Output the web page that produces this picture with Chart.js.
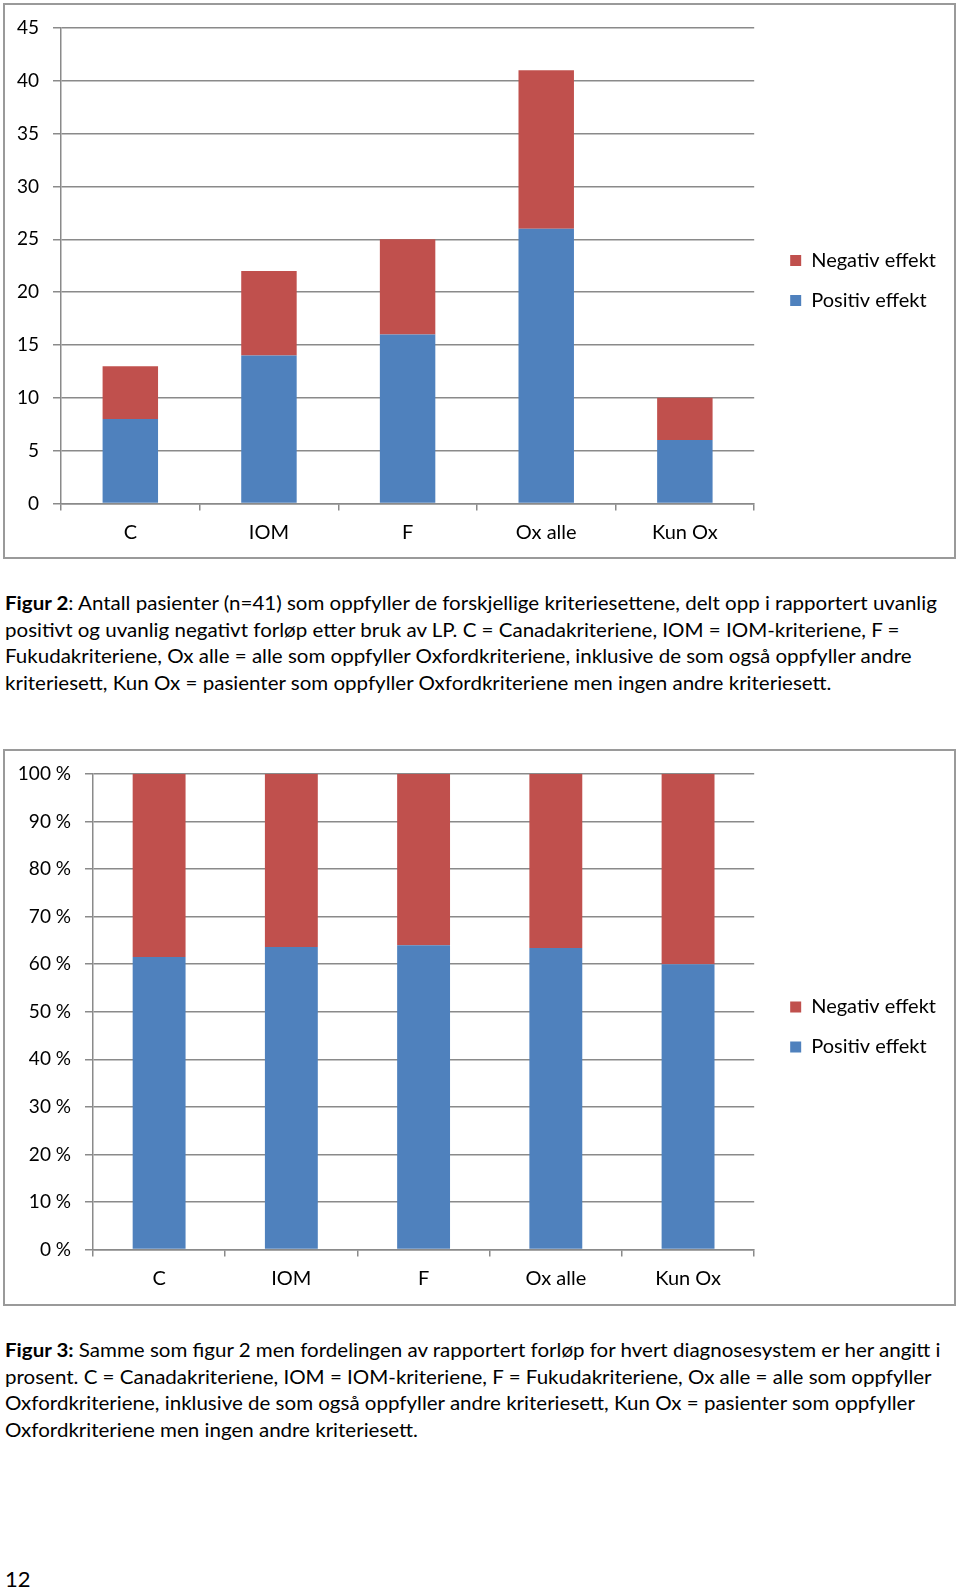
<!DOCTYPE html>
<html>
<head>
<meta charset="utf-8">
<script src="https://cdn.jsdelivr.net/npm/chart.js@4/dist/chart.umd.min.js"></script>
<style>
    html, body { margin: 0; padding: 0; background: #fff; }
    body { width: 960px; height: 1590px; position: relative; overflow: hidden; font-family: Lato, sans-serif; color: #000; }
    .frame { position: absolute; border: 2px solid #9a9a9a; box-sizing: border-box; pointer-events: none; }
    canvas { position: absolute; left: 0; }
    .caption { position: absolute; left: 5px; font-size: 19px; line-height: 26.7px; white-space: nowrap;
               transform: scaleX(1.08); transform-origin: 0 0; }
    .pageno { position: absolute; left: 5px; top: 1565px; font-size: 22px; }
</style>
</head>
<body>
<canvas id="countChart" width="960" height="561" style="top:0px"></canvas>
<div class="frame" style="left:3px; top:3px; width:953px; height:556px"></div>

<div class="caption" style="top:590px">
<b>Figur 2</b>: Antall pasienter (n=41) som oppfyller de forskjellige kriteriesettene, delt opp i rapportert uvanlig<br>
positivt og uvanlig negativt forløp etter bruk av LP. C = Canadakriteriene, IOM = IOM-kriteriene, F =<br>
Fukudakriteriene, Ox alle = alle som oppfyller Oxfordkriteriene, inklusive de som også oppfyller andre<br>
kriteriesett, Kun Ox = pasienter som oppfyller Oxfordkriteriene men ingen andre kriteriesett.
</div>

<canvas id="pctChart" width="960" height="562" style="top:746px"></canvas>
<div class="frame" style="left:3px; top:749px; width:953px; height:557px"></div>

<div class="caption" style="top:1337px">
<b>Figur 3:</b> Samme som figur 2 men fordelingen av rapportert forløp for hvert diagnosesystem er her angitt i<br>
prosent. C = Canadakriteriene, IOM = IOM-kriteriene, F = Fukudakriteriene, Ox alle = alle som oppfyller<br>
Oxfordkriteriene, inklusive de som også oppfyller andre kriteriesett, Kun Ox = pasienter som oppfyller<br>
Oxfordkriteriene men ingen andre kriteriesett.
</div>

<div class="pageno">12</div>

<script>
// Figur 2 / Figur 3 - stacked bars

const categories = ['C', 'IOM', 'F', 'Ox alle', 'Kun Ox'];

// antall pasienter
const positivCounts = [8, 14, 16, 26, 6];
const negativCounts = [5, 8, 9, 15, 4];

// prosent
const positivPct = [61.5, 63.6, 64.0, 63.4, 60.0];
const negativPct = [38.5, 36.4, 36.0, 36.6, 40.0];

const countMax = 45;
const countStep = 5;
const pctMax = 100;
const pctStep = 10;

const BLUE = '#4f81bd';
const RED = '#c0504d';
const GRID = '#8a8a8a';

Chart.defaults.font.family = 'Lato, sans-serif';
Chart.defaults.font.size = 19;
Chart.defaults.color = '#000';

// hidden axes, only used to reserve room around the plot
// (display:false so they don't shrink the legend's max width)
function spacer(position, size) {
    return {
        type: 'linear',
        position: position,
        display: false,
        afterFit: function(scale) {
            if (position === 'top') scale.height = size;
            else scale.width = size;
        }
    };
}

function stackedChart(id, pos, neg, opts) {
    const ctx = document.getElementById(id).getContext('2d');

    new Chart(ctx, {
        type: 'bar',
        data: {
            labels: categories,
            datasets: [{
                label: 'Positiv effekt',
                data: pos,
                xAxisID: 'x',
                yAxisID: 'y',
                backgroundColor: BLUE,
                borderWidth: 0,
                barPercentage: 0.4,
                categoryPercentage: 1.0
            }, {
                label: 'Negativ effekt',
                data: neg,
                xAxisID: 'x',
                yAxisID: 'y',
                backgroundColor: RED,
                borderWidth: 0,
                barPercentage: 0.4,
                categoryPercentage: 1.0
            }]
        },
        options: {
            responsive: false,
            animation: false,
            devicePixelRatio: 1,
            layout: {
                padding: { left: 0, top: 0, right: 14, bottom: 0 }
            },
            plugins: {
                legend: {
                    position: 'right',
                    reverse: true,
                    labels: {
                        boxWidth: 11,
                        boxHeight: 11,
                        padding: 20,
                        font: { size: 20 },
                        color: '#000'
                    }
                },
                tooltip: { enabled: false }
            },
            scales: {
                x: {
                    stacked: true,
                    grid: {
                        offset: true,
                        drawOnChartArea: false,
                        drawTicks: true,
                        tickLength: 7,
                        color: GRID,
                        lineWidth: 1.5
                    },
                    border: { color: GRID, width: 1.5 },
                    ticks: { padding: 10, font: { size: 20 } },
                    afterFit: function(scale) { scale.height = opts.xHeight; }
                },
                y: {
                    stacked: true,
                    min: 0,
                    max: opts.max,
                    grid: {
                        color: GRID,
                        lineWidth: 1.5,
                        drawTicks: true,
                        tickLength: 8
                    },
                    border: { color: GRID, width: 1.5 },
                    ticks: {
                        stepSize: opts.step,
                        padding: 14,
                        font: { size: 19 },
                        callback: opts.tickFormat
                    },
                    afterFit: function(scale) { scale.width = opts.axisWidth; }
                },
                gapTop: spacer('top', 28),
                gapRight: spacer('right', 16)
            }
        }
    });
}

document.addEventListener('DOMContentLoaded', () => {
    stackedChart('countChart', positivCounts, negativCounts, {
        max: countMax,
        step: countStep,
        axisWidth: 61,
        xHeight: 57.5,
        tickFormat: function(value) { return value; }
    });

    stackedChart('pctChart', positivPct, negativPct, {
        max: pctMax,
        step: pctStep,
        axisWidth: 93,
        xHeight: 58.5,
        tickFormat: function(value) { return value + ' %'; }
    });
});
</script>
</body>
</html>
